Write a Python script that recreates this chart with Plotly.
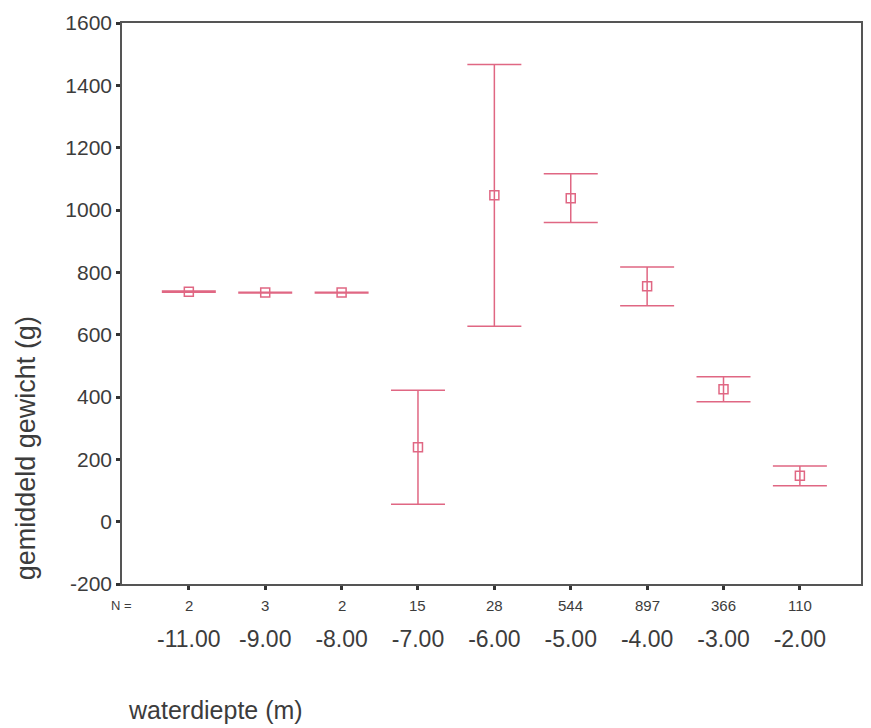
import plotly.graph_objects as go

depths = ["-11.00", "-9.00", "-8.00", "-7.00", "-6.00", "-5.00", "-4.00", "-3.00", "-2.00"]
n_counts = ["2", "3", "2", "15", "28", "544", "897", "366", "110"]
mean_weight = [738, 735, 735, 239, 1047, 1038, 755, 425, 147]
err_weight = [2, 1, 1, 183, 420, 78, 62, 40, 32]
y_ticks = [-200, 0, 200, 400, 600, 800, 1000, 1200, 1400, 1600]
y_tick_labels = ["-200", "0", "200", "400", "600", "800", "1000", "1200", "1400", "1600"]

RED = "#e06783"
TXT = "#3c3c3c"
FONT = "Liberation Sans, Arial, Helvetica, sans-serif"

W, H = 871, 728
ML, MR, MT, MB = 122, 8, 23, 144
plot_h = H - MT - MB

def ypaper(px):
    return (H - MB - px) / plot_h

def xpaper(px):
    return (px - ML) / (W - ML - MR)

fig = go.Figure()
fig.add_trace(go.Scatter(
    x=depths, y=mean_weight, mode="markers",
    marker=dict(symbol="square-open", size=9, color=RED, line=dict(width=1.5, color=RED)),
    error_y=dict(type="data", array=err_weight, visible=True, color=RED, thickness=1.5, width=27),
    showlegend=False, hoverinfo="skip",
))

annotations = []
annotations.append(dict(text="N =", xref="paper", yref="paper", x=xpaper(109), y=ypaper(605),
                        xanchor="left", yanchor="middle", showarrow=False,
                        font=dict(family=FONT, size=13, color=TXT)))
for i, n in enumerate(n_counts):
    annotations.append(dict(text=n, xref="x", yref="paper", x=i, y=ypaper(605),
                            xanchor="center", yanchor="middle", showarrow=False,
                            font=dict(family=FONT, size=15, color=TXT)))
annotations.append(dict(text="waterdiepte (m)", xref="paper", yref="paper", x=xpaper(126), y=ypaper(710),
                        xanchor="left", yanchor="middle", showarrow=False,
                        font=dict(family=FONT, size=25, color=TXT)))
annotations.append(dict(text="gemiddeld gewicht (g)", xref="paper", yref="paper", x=xpaper(26), y=ypaper(448),
                        xanchor="center", yanchor="middle", textangle=-90, showarrow=False,
                        font=dict(family=FONT, size=27, color=TXT)))

fig.update_layout(
    width=W, height=H,
    margin=dict(l=ML, r=MR, t=MT, b=MB),
    paper_bgcolor="white", plot_bgcolor="white",
    annotations=annotations,
    xaxis=dict(type="category", range=[-0.875, 8.8], showgrid=False, zeroline=False,
               showline=True, mirror=True, linecolor="#555555", linewidth=1.5,
               ticks="outside", ticklen=4, tickwidth=2.5, tickcolor="#333333",
               tickfont=dict(family=FONT, size=23, color=TXT), ticklabelstandoff=30),
    yaxis=dict(range=[-200, 1600], tickvals=y_ticks, ticktext=y_tick_labels,
               showgrid=False, zeroline=False,
               showline=True, mirror=True, linecolor="#555555", linewidth=1.5,
               ticks="outside", ticklen=4, tickwidth=2.5, tickcolor="#333333",
               tickfont=dict(family=FONT, size=21, color=TXT)),
)

fig.write_html("out.html")
